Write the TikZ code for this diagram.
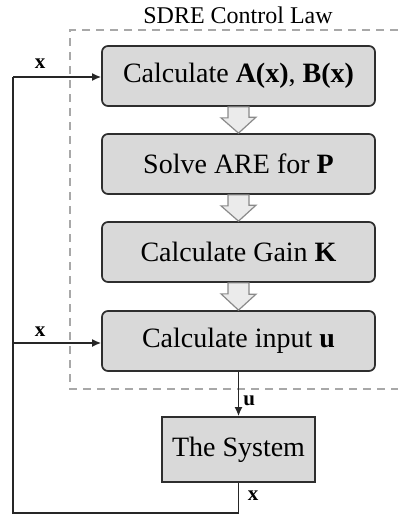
\documentclass[tikz,border=0pt]{standalone}
\usepackage{fontspec}
\setmainfont{Liberation Serif}
\usetikzlibrary{arrows.meta}
\definecolor{boxfill}{HTML}{D9D9D9}
\definecolor{boxline}{HTML}{2E2E2E}
\definecolor{dashcol}{HTML}{A8A8A8}
\definecolor{blockcol}{HTML}{8A8A8A}
\tikzset{
  procbox/.style={draw=boxline, line width=1.7pt, fill=boxfill, rounded corners=6pt,
    minimum width=273pt, minimum height=60pt, inner sep=0pt,
    font=\fontsize{28}{32}\selectfont},
  sysbox/.style={draw=boxline, line width=1.7pt, fill=boxfill,
    minimum width=153pt, minimum height=65pt, inner sep=0pt,
    font=\fontsize{28}{32}\selectfont},
  sig/.style={line width=1.5pt, draw=black!85},
  sigarrow/.style={sig, -{Latex[length=9pt,width=8pt]}},
  siglabel/.style={font=\fontsize{21}{24}\selectfont\bfseries, inner sep=0pt},
  dashbox/.style={draw=dashcol, line width=1.2pt, dash pattern=on 8pt off 6pt},
  blockarrow/.style={draw=blockcol, line width=1.2pt, fill=white!92!black, line join=miter}
}
\begin{document}
\begin{tikzpicture}[x=1pt,y=-1pt]
\useasboundingbox (0,0) rectangle (398,514);
% dashed control-law frame (right side lies beyond the picture)
\draw[dashbox] (398,30) -- (70,30) -- (70,389) -- (398,389);
\node[font=\fontsize{24}{27}\selectfont, inner sep=0pt] (title) at (238,15) {SDRE Control Law};
% process boxes
\node[procbox] (b1) at (238.5,76) {Calculate \textbf{A(x)}, \textbf{B(x)}};
\node[procbox] (b2) at (238.5,164) {Solve ARE for \textbf{P}};
\node[procbox] (b3) at (238.5,252) {Calculate Gain \textbf{K}};
\node[procbox] (b4) at (238.5,341) {Calculate input \textbf{u}};
\node[sysbox] (sys) at (238.5,449.5) {The System};
% hollow block arrows between boxes
\foreach \a/\b in {b1/b2,b2/b3,b3/b4}{
  \draw[blockarrow] ([xshift=-10.5pt]\a.south) -- ++(0,11) -- ++(-7,0)
     -- (\b.north) -- ++(17.5,-16) -- ++(-7,0) -- ([xshift=10.5pt]\a.south) -- cycle;
}
% control signal
\draw[sigarrow] (b4.south) -- node[siglabel, right=4pt, pos=0.65] (ulab) {u} (sys.north);
% feedback loop
\coordinate (fbbot) at (238.5,513);
\coordinate (fbcorner) at (13,513);
\coordinate (fbtop) at (13,77);
\coordinate (fbmid) at (13,343);
\draw[sig] (sys.south) -- (fbbot) -- (fbcorner) -- (fbtop);
\draw[sigarrow] (fbtop) -- (b1.west |- fbtop);
\draw[sigarrow] (fbmid) -- (b4.west |- fbmid);
\node[siglabel] (x1) at (40,64) {x};
\node[siglabel] (x2) at (40,332) {x};
\node[siglabel] (x3) at (253,496) {x};
\end{tikzpicture}
\end{document}
